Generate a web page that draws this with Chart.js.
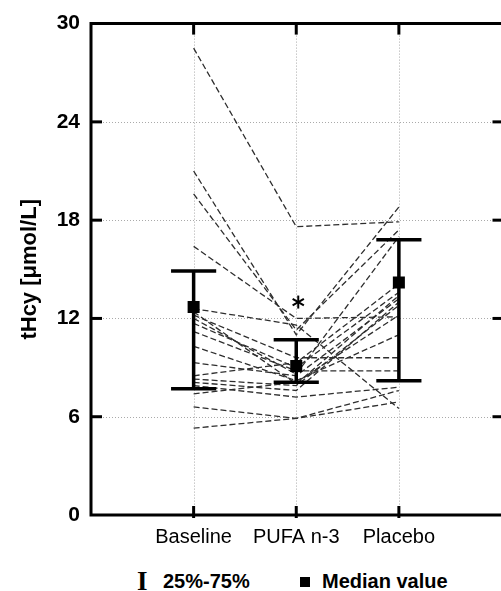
<!DOCTYPE html>
<html lang="en">
<head>
    <meta charset="UTF-8">
    <title>tHcy</title>
    <script src="https://cdn.jsdelivr.net/npm/chart.js"></script>
    <style>
        body { margin: 0; background: white; }
        .wrap { position: relative; width: 501px; height: 591px; overflow: hidden; }
        .wrap canvas { position: absolute; left: 0; top: 0; }
        .legend { position: absolute; top: 569px; left: 0; width: 501px; height: 25px;
                  font-family: "Liberation Sans", Arial, sans-serif; font-weight: bold; font-size: 20px; color: #000; }
        .legend span { position: absolute; top: 0; line-height: 25px; white-space: nowrap; }
        .bar-sym { font-family: "Liberation Serif", serif; font-size: 27px; }
        .sq { width: 10px; height: 10px; background: #000; top: 8px !important; }
    </style>
</head>
<body>
    <div class="wrap">
        <canvas id="hcyChart" width="510" height="560"></canvas>
        <div class="legend">
            <span class="bar-sym" style="left:137px; top:0px;">I</span>
            <span style="left:163px;">25%-75%</span>
            <span class="sq" style="left:300px;"></span>
            <span style="left:322px;">Median value</span>
        </div>
    </div>
    <script>
        const categories = ['Baseline', 'PUFA n-3', 'Placebo'];
        const yTicks = [0, 6, 12, 18, 24, 30];

        // one entry per subject
        const baseline = [28.5, 21.0, 19.6, 16.4, 12.6, 12.4, 12.2, 12.0, 11.7, 11.2, 10.3, 9.3, 8.5, 8.3, 8.1, 7.9, 7.4, 6.6, 5.3];
        const pufa     = [17.6, 11.0, 11.3, 12.0, 11.6, 8.0, 9.6, 8.6, 9.0, 8.8, 8.2, 8.5, 9.3, 7.9, 7.6, 7.2, 8.1, 5.9, 5.9];
        const placebo  = [17.9, 18.8, 17.4, 12.1, 6.5, 13.4, 9.6, 17.0, 13.6, 8.8, 11.0, 13.2, 14.1, 12.8, 13.0, 7.8, 12.2, 7.6, 6.9];

        const medians = [12.7, 9.1, 14.2];
        const q25 = [7.7, 8.1, 8.2];
        const q75 = [14.9, 10.7, 16.8];
        const asteriskAt = [null, 13.0, null];

        const capHalf = 0.22;
        const datasets = [];

        for (let i = 0; i < baseline.length; i++) {
            datasets.push({
                data: [{x: 1, y: baseline[i]}, {x: 2, y: pufa[i]}, {x: 3, y: placebo[i]}],
                showLine: true,
                borderColor: '#2e2e2e',
                borderWidth: 1.3,
                borderDash: [6, 3],
                pointRadius: 0,
                order: 3
            });
        }

        categories.forEach((c, j) => {
            const x = j + 1;
            const bar = { showLine: true, borderColor: '#000', borderWidth: 3.5, pointRadius: 0, order: 2 };
            datasets.push(Object.assign({ data: [{x: x, y: q25[j]}, {x: x, y: q75[j]}] }, bar));
            datasets.push(Object.assign({ data: [{x: x - capHalf, y: q75[j]}, {x: x + capHalf, y: q75[j]}] }, bar));
            datasets.push(Object.assign({ data: [{x: x - capHalf, y: q25[j]}, {x: x + capHalf, y: q25[j]}] }, bar));
        });

        datasets.push({
            data: medians.map((m, j) => ({x: j + 1, y: m})),
            showLine: false,
            pointStyle: 'rect',
            pointRadius: 8.5,
            pointBackgroundColor: '#000',
            pointBorderWidth: 0,
            order: 1
        });

        // grid, frame, inner ticks, asterisk
        const framePlugin = {
            id: 'frame',
            beforeDatasetsDraw(chart) {
                const {ctx, chartArea: a, scales: {x, y}} = chart;
                ctx.save();
                ctx.strokeStyle = '#aaa';
                ctx.lineWidth = 1;
                ctx.setLineDash([1, 2]);
                yTicks.slice(1, -1).forEach(v => {
                    const py = Math.round(y.getPixelForValue(v)) + 0.5;
                    ctx.beginPath(); ctx.moveTo(a.left, py); ctx.lineTo(a.right, py); ctx.stroke();
                });
                categories.forEach((c, j) => {
                    const px = Math.round(x.getPixelForValue(j + 1)) + 0.5;
                    ctx.beginPath(); ctx.moveTo(px, a.top); ctx.lineTo(px, a.bottom); ctx.stroke();
                });
                ctx.restore();
            },
            afterDatasetsDraw(chart) {
                const {ctx, chartArea: a, scales: {x, y}} = chart;
                ctx.save();
                ctx.strokeStyle = '#000';
                ctx.lineWidth = 3;
                ctx.beginPath();
                ctx.moveTo(a.right + 2, a.top);
                ctx.lineTo(a.left, a.top);
                ctx.lineTo(a.left, a.bottom);
                ctx.lineTo(a.right + 2, a.bottom);
                ctx.stroke();
                yTicks.slice(1, -1).forEach(v => {
                    const py = y.getPixelForValue(v);
                    ctx.beginPath(); ctx.moveTo(a.left, py); ctx.lineTo(a.left + 11, py); ctx.stroke();
                    ctx.beginPath(); ctx.moveTo(a.right - 9, py); ctx.lineTo(a.right + 2, py); ctx.stroke();
                });
                categories.forEach((c, j) => {
                    const px = x.getPixelForValue(j + 1);
                    ctx.beginPath(); ctx.moveTo(px, a.top); ctx.lineTo(px, a.top + 11); ctx.stroke();
                    ctx.beginPath(); ctx.moveTo(px, a.bottom - 9); ctx.lineTo(px, a.bottom + 3); ctx.stroke();
                });
                // asterisk
                ctx.lineWidth = 2;
                asteriskAt.forEach((v, j) => {
                    if (v === null) return;
                    const cx = x.getPixelForValue(j + 1) + 2, cy = y.getPixelForValue(v);
                    for (let k = 0; k < 3; k++) {
                        const ang = Math.PI / 2 + k * Math.PI / 3;
                        const dx = Math.cos(ang) * 6.5, dy = Math.sin(ang) * 6.5;
                        ctx.beginPath(); ctx.moveTo(cx - dx, cy - dy); ctx.lineTo(cx + dx, cy + dy); ctx.stroke();
                    }
                });
                ctx.restore();
            }
        };

        new Chart(document.getElementById('hcyChart'), {
            type: 'scatter',
            data: { datasets: datasets },
            plugins: [framePlugin],
            options: {
                responsive: false,
                animation: false,
                layout: { padding: { top: 20, right: 0, left: 0, bottom: 0 } },
                plugins: { legend: { display: false }, tooltip: { enabled: false } },
                scales: {
                    x: {
                        type: 'linear',
                        min: 0,
                        max: 4,
                        afterBuildTicks: s => { s.ticks = categories.map((c, j) => ({ value: j + 1 })); },
                        afterFit: s => { s.height = 45; },
                        ticks: {
                            callback: v => categories[v - 1] || '',
                            color: '#000',
                            padding: 10,
                            maxRotation: 0,
                            autoSkip: false,
                            font: { family: 'Liberation Sans', size: 20 }
                        },
                        grid: { display: false, drawTicks: false },
                        border: { display: false }
                    },
                    y: {
                        min: 0,
                        max: 30,
                        afterBuildTicks: s => { s.ticks = yTicks.map(v => ({ value: v })); },
                        afterFit: s => { s.width = 91; },
                        ticks: {
                            color: '#000',
                            padding: 11,
                            font: { family: 'Liberation Sans', size: 21, weight: 'bold' }
                        },
                        title: {
                            display: true,
                            text: 'tHcy [μmol/L]',
                            color: '#000',
                            padding: { top: 17, bottom: 0 },
                            font: { family: 'Liberation Sans', size: 22, weight: 'bold' }
                        },
                        grid: { display: false, drawTicks: false },
                        border: { display: false }
                    }
                }
            }
        });
    </script>
</body>
</html>
